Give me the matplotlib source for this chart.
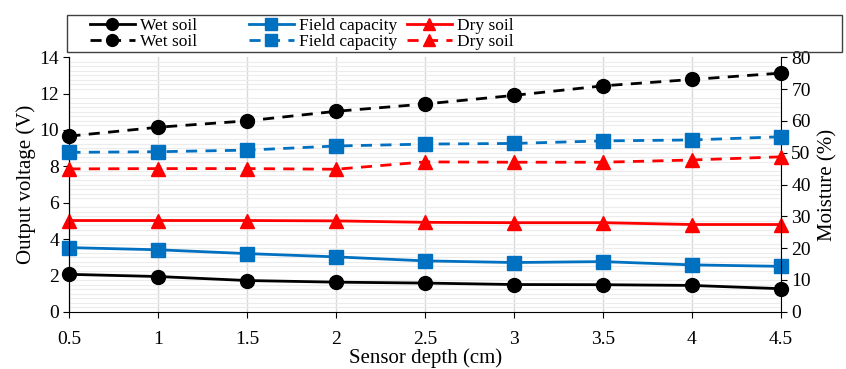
import matplotlib.pyplot as plt
from matplotlib.patches import Rectangle
from matplotlib.ticker import MultipleLocator

plt.rcParams['font.family'] = ['Liberation Serif', 'DejaVu Serif']

# Dados
profundidade = [0.5, 1, 1.5, 2, 2.5, 3, 3.5, 4, 4.5]

# Tensão de saída (V) - eixo esquerdo, linhas cheias
v_umido = [2.06, 1.94, 1.72, 1.63, 1.58, 1.50, 1.49, 1.45, 1.27]
v_capacidade = [3.53, 3.41, 3.20, 3.02, 2.80, 2.71, 2.76, 2.58, 2.50]
v_seco = [5.02, 5.02, 5.02, 5.00, 4.92, 4.90, 4.90, 4.80, 4.80]

# Umidade (%) - eixo direito, linhas tracejadas
m_umido = [55.2, 58.0, 60.0, 63.0, 65.3, 68.0, 71.0, 73.0, 75.0]
m_capacidade = [50.1, 50.3, 50.8, 52.1, 52.7, 52.9, 53.7, 54.0, 55.0]
m_seco = [44.9, 45.0, 45.0, 44.8, 47.1, 47.0, 47.0, 47.7, 48.7]

rotulos = ["Wet soil", "Field capacity", "Dry soil"]
cores = ["black", "#0070C0", "#FF0000"]
marcadores = ["o", "s", "^"]

fig, ax = plt.subplots(figsize=(8.46, 3.69), dpi=100)
fig.subplots_adjust(left=0.082, right=0.923, top=0.845, bottom=0.155)
ax2 = ax.twinx()

pares = []
for v, m, rot, cor, mk in zip([v_umido, v_capacidade, v_seco],
                              [m_umido, m_capacidade, m_seco],
                              rotulos, cores, marcadores):
    l1, = ax.plot(profundidade, v, color=cor, marker=mk, markersize=10,
                  linewidth=2, label=rot, clip_on=False, zorder=3)
    l2, = ax2.plot(profundidade, m, color=cor, marker=mk, markersize=10,
                   linewidth=2, linestyle=(0, (4, 3)), label=rot,
                   clip_on=False, zorder=3)
    pares.append([l1, l2])

ax.set_xlim(0.5, 4.5)
ax.set_ylim(0, 14)
ax2.set_ylim(0, 80)
ax.set_xticks(profundidade)
ax.set_xticklabels(["0.5", "1", "1.5", "2", "2.5", "3", "3.5", "4", "4.5"])
ax.yaxis.set_major_locator(MultipleLocator(2))
ax.yaxis.set_minor_locator(MultipleLocator(0.25))
ax2.yaxis.set_major_locator(MultipleLocator(10))

ax.grid(True, axis='x', color='#d9d9d9', linewidth=1)
ax.grid(True, axis='y', which='minor', color='#ececec', linewidth=0.8)
ax.tick_params(axis='y', which='minor', length=0)
ax.tick_params(axis='both', labelsize=14, direction='out', length=4)
ax2.tick_params(axis='y', labelsize=14, direction='out', length=4)
ax.tick_params(axis='x', pad=10)

for a in (ax, ax2):
    a.spines['top'].set_visible(False)
ax.spines['right'].set_visible(False)
ax2.spines['bottom'].set_visible(False)

ax.set_xlabel("Sensor depth (cm)", fontsize=15, labelpad=0)
ax.set_ylabel("Output voltage (V)", fontsize=15, labelpad=2)
ax2.set_ylabel("Moisture (%)", fontsize=15, labelpad=5)

# Uma legenda por coluna + caixa desenhada à parte
for par, x0 in zip(pares, [0.106, 0.294, 0.481]):
    leg = fig.legend(handles=par, loc='center left', bbox_to_anchor=(x0, 0.909),
                     fontsize=12.5, frameon=False, handlelength=2.6,
                     labelspacing=0.0, handletextpad=0.3, markerscale=0.85,
                     borderpad=0, borderaxespad=0)
caixa = Rectangle((0.079, 0.859), 0.916, 0.1, transform=fig.transFigure,
                  fill=False, edgecolor='#404040', linewidth=1)
fig.patches.append(caixa)

fig.savefig("out.png", dpi=100)
